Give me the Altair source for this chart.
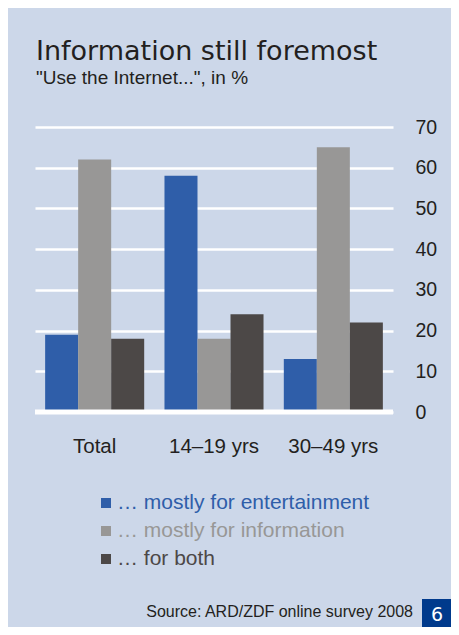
import altair as alt
import pandas as pd

groups = ["Total", "14–19 yrs", "30–49 yrs"]
series = ["… mostly for entertainment", "… mostly for information", "… for both"]
entertainment = [19, 58, 13]
information = [62, 18, 65]
both = [18, 24, 22]
colors = ["#2F5EA9", "#989796", "#4C4847"]
y_ticks = [0, 10, 20, 30, 40, 50, 60, 70]

title_text = "Information still foremost"
subtitle_text = "\"Use the Internet...\", in %"
source_text = "Source: ARD/ZDF online survey 2008"
page_text = "6"

BG = "#CCD7E9"
INK = "#231F20"
W, H = 358, 285

rows = []
for s, vals in zip(series, [entertainment, information, both]):
    for g, v in zip(groups, vals):
        rows.append({"group": g, "series": s, "value": v})
df = pd.DataFrame(rows)

xscale = alt.Scale(domain=groups, paddingInner=0.17, paddingOuter=0.085)
yscale = alt.Scale(domain=[0, 70])

bars = alt.Chart(df).mark_bar(stroke=None).encode(
    x=alt.X("group:N", sort=groups, scale=xscale, axis=None),
    xOffset=alt.XOffset("series:N", sort=series, scale=alt.Scale(domain=series, paddingInner=0, paddingOuter=0)),
    y=alt.Y("value:Q", scale=yscale,
            axis=alt.Axis(orient="right", values=y_ticks, grid=True, gridColor="white",
                          gridWidth=2.5, domain=False, ticks=False, labelPadding=22,
                          labelFontSize=19.5, labelFont="Liberation Sans", labelColor=INK,
                          labelBaseline="middle", title=None)),
    color=alt.Color("series:N", scale=alt.Scale(domain=series, range=colors), legend=None),
)

zero = alt.Chart(pd.DataFrame({"v": [0]})).mark_rule(color="white", strokeWidth=5).encode(
    y=alt.Y("v:Q", scale=yscale), x=alt.value(0), x2=alt.value(W)
)

xlabels = alt.Chart(pd.DataFrame({"group": groups})).mark_text(
    fontSize=20.5, font="Liberation Sans", color=INK, baseline="alphabetic", align="center"
).encode(
    x=alt.X("group:N", sort=groups, scale=xscale, axis=None),
    y=alt.value(326),
    text="group:N",
)

layers = [bars, zero, xlabels]

one = pd.DataFrame({"a": [0]})
layers.append(alt.Chart(one).mark_text(text=title_text, font="DejaVu Sans", fontSize=27,
                                       color=INK, align="left", baseline="alphabetic")
              .encode(x=alt.value(1), y=alt.value(-67)))
layers.append(alt.Chart(one).mark_text(text=subtitle_text, font="Liberation Sans", fontSize=19,
                                       color=INK, align="left", baseline="alphabetic")
              .encode(x=alt.value(1), y=alt.value(-43)))

for i, (s, c) in enumerate(zip(series, colors)):
    yy = 376 + 28 * i
    layers.append(alt.Chart(one).mark_square(size=100, color=c, opacity=1)
                  .encode(x=alt.value(71), y=alt.value(yy)))
    layers.append(alt.Chart(one).mark_text(text=s, font="Liberation Sans", fontSize=21, color=c,
                                           align="left", baseline="middle")
                  .encode(x=alt.value(82), y=alt.value(yy)))

layers.append(alt.Chart(one).mark_text(text=source_text, font="Liberation Sans", fontSize=16,
                                       color=INK, align="right", baseline="alphabetic")
              .encode(x=alt.value(378), y=alt.value(490)))
layers.append(alt.Chart(one).mark_rect(color="#003A8C")
              .encode(x=alt.value(387), x2=alt.value(416), y=alt.value(472), y2=alt.value(500)))
layers.append(alt.Chart(one).mark_text(text=page_text, font="DejaVu Sans", fontSize=19,
                                       color="white", align="center", baseline="alphabetic")
              .encode(x=alt.value(402), y=alt.value(494)))

chart = alt.layer(*layers).resolve_scale(color="independent").properties(
    width=W, height=H,
    padding={"left": 27, "top": 119, "right": 58, "bottom": 215},
    autosize=alt.AutoSizeParams(type="none"),
    background=BG,
).configure_view(stroke=None)

chart.save("out.html", embed_options={"renderer": "svg", "actions": False})
